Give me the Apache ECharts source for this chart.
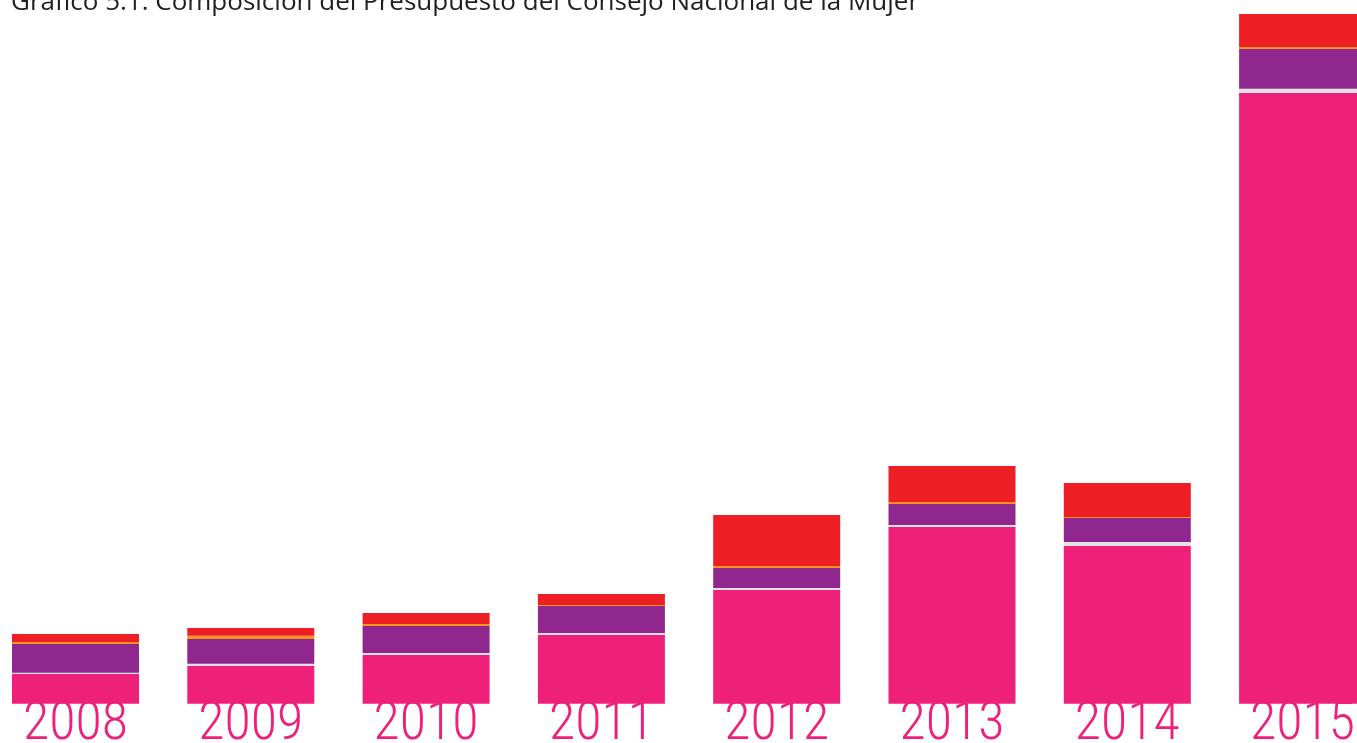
<!DOCTYPE html>
<html>
<head>
<meta charset="utf-8">
<script src="https://cdn.jsdelivr.net/npm/echarts@6/dist/echarts.min.js"></script>
<style>
html,body{margin:0;padding:0;background:#fff;}
#chart{width:1357px;height:743px;}
</style>
</head>
<body>
<div id="chart"></div>
<script>
const years = ['2008','2009','2010','2011','2012','2013','2014','2015'];
const pinkVals   = [30, 37.7, 48.7, 68.7, 113.7, 176.7, 157.7, 610.7];
const grayVals   = [1, 2.3, 2, 2, 2, 2, 4, 4.3];
const purpleVals = [28.7, 24.7, 27, 27, 20, 21, 24, 39.7];
const orangeVals = [2, 3.3, 2, 1, 2, 2, 1, 2];
const redVals    = [8, 7.7, 11, 11, 51, 36, 34, 33];
const titleText = 'Gráfico 5.1: Composición del Presupuesto del Consejo Nacional de la Mujer';

const chart = echarts.init(document.getElementById('chart'));
function s(name, data, color){
  return {name, type:'bar', stack:'total', data, barWidth:127,
    itemStyle:{color}, emphasis:{disabled:true}};
}
chart.setOption({
  animation:false,
  title:{text:titleText, left:6, top:-15,
    textStyle:{fontFamily:'Open Sans', fontWeight:'normal', fontSize:26, color:'#231f20'}},
  grid:{left:-12.15, width:1402.4, top:3.7, height:700, outerBoundsMode:'none', containLabel:false},
  xAxis:{type:'category', data:years,
    axisLine:{show:false}, axisTick:{show:false},
    axisLabel:{color:'#ee2079', fontSize:54, margin:-5,
      fontFamily:'"Roboto Condensed", Roboto', fontWeight:300}},
  yAxis:{type:'value', min:0, max:700, show:false, splitLine:{show:false}},
  series:[
    s('Pink', pinkVals, '#ee207a'),
    s('Gray', grayVals, '#e3e3e5'),
    s('Purple', purpleVals, '#90278e'),
    s('Orange', orangeVals, '#f7941d'),
    s('Red', redVals, '#ed1f24')
  ]
});
</script>
</body>
</html>
